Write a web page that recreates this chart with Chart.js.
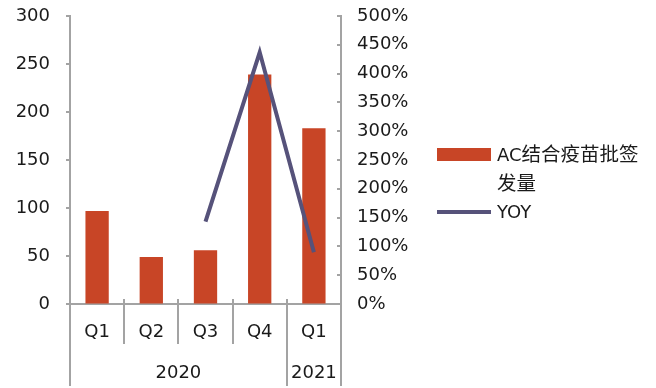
<!DOCTYPE html>
<html>
<head>
<meta charset="utf-8">
<script src="https://cdn.jsdelivr.net/npm/chart.js"></script>
<style>
    html, body { margin: 0; padding: 0; background: #fff; }
    #wrap { position: relative; width: 656px; height: 388px; }
    .lg { position: absolute; font-family: "DejaVu Sans", "Noto Sans CJK SC", sans-serif; font-size: 18px; color: #1a1a1a; line-height: 27px; white-space: nowrap; }
    .lg .cjk { font-family: "Noto Sans CJK SC", sans-serif; font-size: 19.5px; }
    .swatch { position: absolute; }
</style>
</head>
<body>
<div id="wrap">
    <canvas id="vaccineChart" width="656" height="388"></canvas>
    <div class="swatch" id="swBar"></div>
    <div class="lg" id="lgBar"></div>
    <div class="swatch" id="swLine"></div>
    <div class="lg" id="lgLine"></div>
</div>
<script>
// quarterly batch release volume and its YoY growth
const quarters = ['Q1', 'Q2', 'Q3', 'Q4', 'Q1'];
const years = ['2020', '2021'];
const yearStarts = [0, 4];
const batchVolume = [97, 49, 56, 239, 183];
const yoyPct = [null, null, 143, 437, 90];
const seriesNames = ['AC结合疫苗批签发量', 'YOY'];

const barColor = 'rgb(200, 69, 38)';
const lineColor = 'rgb(86, 82, 122)';
const axisColor = '#a3a3a3';
const textColor = '#1a1a1a';
const fontFamily = '"DejaVu Sans", "Noto Sans CJK SC", sans-serif';

Chart.defaults.font.family = fontFamily;
Chart.defaults.font.size = 18;
Chart.defaults.color = textColor;

// year row under the quarter labels, separators and short tick marks
const groupRows = {
    id: 'groupRows',
    afterDraw(chart) {
        const {ctx, chartArea, scales: {x, y, y1}} = chart;
        const step = (x.right - x.left) / quarters.length;
        ctx.save();
        ctx.strokeStyle = axisColor;
        ctx.lineWidth = 2;
        for (let i = 0; i <= quarters.length; i++) {
            const px = Math.round(x.left + i * step);
            const yearEdge = yearStarts.includes(i) || i === quarters.length;
            ctx.beginPath();
            ctx.moveTo(px, chartArea.bottom - 5);
            ctx.lineTo(px, yearEdge ? 386 : 344);
            ctx.stroke();
        }
        ctx.beginPath();
        ctx.moveTo(Math.round(x.left), chartArea.top);
        ctx.lineTo(Math.round(x.left), chartArea.bottom);
        ctx.moveTo(Math.round(x.right), chartArea.top);
        ctx.lineTo(Math.round(x.right), chartArea.bottom);
        [y, y1].forEach(s => {
            const ax = Math.round(s === y ? x.left : x.right);
            s.ticks.forEach(t => {
                const py = Math.round(s.getPixelForValue(t.value));
                ctx.moveTo(ax - 4, py);
                ctx.lineTo(ax, py);
            });
        });
        ctx.stroke();

        ctx.font = '18px ' + fontFamily;
        ctx.fillStyle = textColor;
        ctx.textAlign = 'center';
        ctx.textBaseline = 'middle';
        years.forEach((yr, k) => {
            const from = yearStarts[k];
            const to = k + 1 < yearStarts.length ? yearStarts[k + 1] : quarters.length;
            ctx.fillText(yr, x.left + (from + to) / 2 * step, 373);
        });
        ctx.restore();
    }
};

const ctx = document.getElementById('vaccineChart').getContext('2d');
new Chart(ctx, {
    type: 'bar',
    data: {
        labels: quarters,
        datasets: [
            {
                type: 'line',
                label: seriesNames[1],
                data: yoyPct,
                yAxisID: 'y1',
                borderColor: lineColor,
                borderWidth: 4,
                borderJoinStyle: 'miter',
                borderCapStyle: 'butt',
                pointRadius: 0,
                tension: 0,
                order: 0
            },
            {
                type: 'bar',
                label: seriesNames[0],
                data: batchVolume,
                yAxisID: 'y',
                backgroundColor: barColor,
                barPercentage: 0.43,
                categoryPercentage: 1,
                order: 1
            }
        ]
    },
    options: {
        responsive: false,
        animation: false,
        layout: {padding: {top: 16, left: 0, right: 0, bottom: 0}},
        plugins: {
            legend: {display: false},
            tooltip: {enabled: false}
        },
        scales: {
            x: {
                grid: {display: false, drawTicks: false},
                border: {display: true, color: axisColor, width: 2},
                ticks: {padding: 18, color: textColor},
                afterFit(scale) { scale.height = 84; }
            },
            y: {
                position: 'left',
                min: 0,
                max: 300,
                ticks: {stepSize: 50, padding: 0, color: textColor},
                grid: {drawOnChartArea: false, tickLength: 20, tickColor: 'rgba(0,0,0,0)'},
                border: {display: true, color: axisColor, width: 2},
                afterFit(scale) { scale.width = 70; }
            },
            y1: {
                position: 'right',
                min: 0,
                max: 500,
                ticks: {stepSize: 50, padding: 0, color: textColor, callback: v => v + '%'},
                grid: {drawOnChartArea: false, tickLength: 16, tickColor: 'rgba(0,0,0,0)'},
                border: {display: true, color: axisColor, width: 2},
                afterFit(scale) { scale.width = 315; }
            }
        }
    },
    plugins: [groupRows]
});

// legend beside the right axis
const swBar = document.getElementById('swBar');
Object.assign(swBar.style, {left: '437px', top: '148px', width: '54px', height: '13px', background: barColor});
const lgBar = document.getElementById('lgBar');
Object.assign(lgBar.style, {left: '497px', top: '139px'});
const cjkPart = seriesNames[0].slice(2);
lgBar.innerHTML = seriesNames[0].slice(0, 2) + '<span class="cjk">' + cjkPart.slice(0, 6) +
    '</span><br><span class="cjk">' + cjkPart.slice(6) + '</span>';
const swLine = document.getElementById('swLine');
Object.assign(swLine.style, {left: '437px', top: '210px', width: '54px', height: '4px', background: lineColor});
const lgLine = document.getElementById('lgLine');
Object.assign(lgLine.style, {left: '497px', top: '198px'});
lgLine.textContent = seriesNames[1];
</script>
</body>
</html>
